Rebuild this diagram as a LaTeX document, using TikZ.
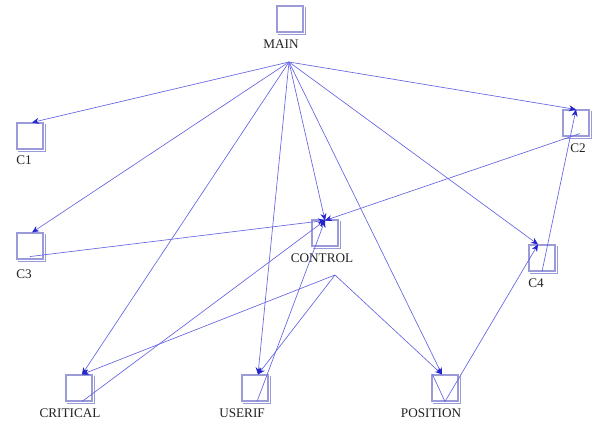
\documentclass[tikz,border=0pt]{standalone}
\usepackage{fontspec}
\setmainfont{Liberation Serif}
\usetikzlibrary{arrows.meta}
\definecolor{boxline}{RGB}{155,155,218}
\definecolor{edgeblue}{RGB}{100,100,228}
\definecolor{tipblue}{RGB}{35,35,205}
\definecolor{labelgray}{RGB}{35,35,35}
\tikzset{
  modbox/.style={draw=boxline, line width=1.1pt, minimum size=26pt, inner sep=0pt},
  boxshade/.style={draw=boxline, line width=1.1pt},
  lbl/.style={text=labelgray, font=\fontsize{13.2}{15}\selectfont, inner sep=0pt},
  edge/.style={draw=edgeblue, line width=0.65pt,
    -{Stealth[length=7pt,width=6pt,color=tipblue,fill=tipblue]}},
  plainedge/.style={draw=edgeblue, line width=0.65pt},
}
\begin{document}
\begin{tikzpicture}[x=1pt,y=-1pt]
\useasboundingbox (0,0) rectangle (597,424);
\fill[white] (0,0) rectangle (597,424);

% module boxes
\node[modbox] (MAIN)     at (290,19)  {};
\node[modbox] (C1)       at (30,136)  {};
\node[modbox] (C2)       at (576,123) {};
\node[modbox] (C3)       at (30,246)  {};
\node[modbox] (CONTROL)  at (325,233) {};
\node[modbox] (C4)       at (542,258) {};
\node[modbox] (CRITICAL) at (79,388)  {};
\node[modbox] (USERIF)   at (255,388) {};
\node[modbox] (POSITION) at (445,388) {};

% raised edge on the right and bottom of each box
\foreach \b in {MAIN,C1,C2,C3,CONTROL,C4,CRITICAL,USERIF,POSITION}{
  \draw[boxshade] ([shift={(2,2)}]\b.south west) -- ([shift={(2,2)}]\b.south east)
                  -- ([shift={(2,2)}]\b.north east);
}

% labels
\node[lbl] (MAIN-l)     at (281,44)  {MAIN};
\node[lbl] (C1-l)       at (24,160)  {C1};
\node[lbl] (C2-l)       at (578,148) {C2};
\node[lbl] (C3-l)       at (24,274)  {C3};
\node[lbl] (CONTROL-l)  at (322,258) {CONTROL};
\node[lbl] (C4-l)       at (536,283) {C4};
\node[lbl] (CRITICAL-l) at (70,413)  {CRITICAL};
\node[lbl] (USERIF-l)   at (242,413) {USERIF};
\node[lbl] (POSITION-l) at (431,413) {POSITION};

% call anchors: where calls leave and arrive
\coordinate (MAIN-src)     at (289,62);
\coordinate (CONTROL-src)  at (335,275);
\coordinate (C3-src)       at ([yshift=3pt]C3.south);
\coordinate (C2-src)       at ([shift={(4pt,3pt)}]C2.south);
\coordinate (C4-src)       at (C4.south);
\coordinate (CRITICAL-src) at ([xshift=3pt]CRITICAL.south);
\coordinate (USERIF-src)   at ([xshift=2pt]USERIF.south);
\coordinate (POSITION-src) at (POSITION.south);
\coordinate (POSITION-v)   at ([xshift=1pt]POSITION.north west);

\coordinate (C1-tip)       at ([xshift=2pt]C1.north);
\coordinate (C2-tip)       at (C2.north);
\coordinate (C3-tip)       at ([xshift=2pt]C3.north);
\coordinate (CONTROL-tip)  at ([yshift=-1pt]CONTROL.north);
\coordinate (C4-tip)       at ([xshift=-4pt]C4.north);
\coordinate (CRITICAL-tip) at ([xshift=3pt]CRITICAL.north);
\coordinate (USERIF-tip)   at ([xshift=3pt]USERIF.north);
\coordinate (POSITION-tip) at ([xshift=-3pt]POSITION.north);

% calls made by MAIN
\foreach \t in {C1,C3,CRITICAL,USERIF,CONTROL,POSITION,C4,C2}{
  \draw[edge] (MAIN-src) -- (\t-tip);
}
% calls made by CONTROL
\foreach \t in {CRITICAL,USERIF,POSITION}{
  \draw[edge] (CONTROL-src) -- (\t-tip);
}
% calls into CONTROL
\foreach \s in {C3,C2,CRITICAL,USERIF}{
  \draw[edge] (\s-src) -- (CONTROL-tip);
}
\draw[edge] (C4-src) -- (C2-tip);
\draw[edge] (POSITION-v) -- (POSITION-src) -- (C4-tip);
\end{tikzpicture}
\end{document}
